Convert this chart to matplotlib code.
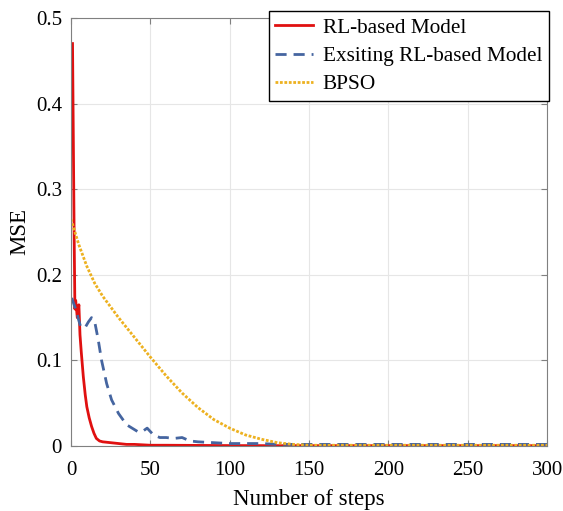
import matplotlib.pyplot as plt

# values
red_steps = [1, 1.5, 2, 2.5, 3, 4, 5, 5.7, 6.5, 7.8, 9, 10, 11.5, 13, 14.5, 16, 18, 20,
             25, 30, 35, 40, 50, 60, 80, 100, 130, 160, 200, 250, 300]
red_mse = [0.47, 0.36, 0.25, 0.16, 0.17, 0.15, 0.165, 0.13, 0.11, 0.081, 0.06, 0.046,
           0.033, 0.023, 0.015, 0.009, 0.006, 0.005, 0.004, 0.003, 0.002, 0.002, 0.001,
           0.001, 0.0008, 0.0006, 0.0005, 0.0005, 0.0005, 0.0005, 0.0005]

blue_steps = [0.5, 2, 3.6, 4.6, 6, 8.8, 11, 13, 15, 17.2, 19.3, 22.5, 25.6, 30, 35, 42,
              45, 48, 52, 56, 60, 65, 70, 75, 80, 90, 100, 110, 120, 130, 140, 150,
              175, 200, 225, 250, 275, 300]
blue_mse = [0.173, 0.165, 0.157, 0.149, 0.14, 0.138, 0.145, 0.15, 0.145, 0.124, 0.10,
            0.073, 0.054, 0.038, 0.025, 0.017, 0.017, 0.021, 0.013, 0.01, 0.01, 0.009,
            0.01, 0.006, 0.005, 0.004, 0.003, 0.003, 0.003, 0.002, 0.002, 0.002, 0.002,
            0.002, 0.002, 0.002, 0.002, 0.002]

bpso_steps = [0, 5, 10, 15, 20, 30, 40, 50, 60, 70, 80, 90, 100, 110, 120, 130, 140,
              150, 200, 250, 300]
bpso_mse = [0.265, 0.235, 0.21, 0.19, 0.175, 0.15, 0.127, 0.104, 0.082, 0.062, 0.045,
            0.031, 0.021, 0.013, 0.008, 0.004, 0.002, 0.001, 0.001, 0.001, 0.001]

plt.rcParams['font.family'] = ['Liberation Serif', 'DejaVu Serif']

fig = plt.figure(figsize=(5.63, 5.11), dpi=100)
ax = fig.add_axes([0.126, 0.127, 0.846, 0.838])

ax.plot(red_steps, red_mse, color='#E01010', lw=2, label='RL-based Model')
ax.plot(blue_steps, blue_mse, color='#4565A0', lw=2, ls=(0, (4, 2.5)),
        label='Exsiting RL-based Model')
ax.plot(bpso_steps, bpso_mse, color='#EDB120', lw=2, ls=(0, (1, 0.6)), label='BPSO')

ax.set_xlim(0, 300)
ax.set_ylim(0, 0.5)
ax.set_xticks([0, 50, 100, 150, 200, 250, 300])
ax.set_yticks([0, 0.1, 0.2, 0.3, 0.4, 0.5])
ax.set_yticklabels(['0', '0.1', '0.2', '0.3', '0.4', '0.5'])
ax.tick_params(labelsize=15, direction='in', top=True, right=True, color='#808080',
               length=4)
ax.tick_params(axis='x', pad=10.5)
ax.tick_params(axis='y', pad=6.5)
ax.grid(True, color='#e6e6e6', lw=0.8)
for s in ax.spines.values():
    s.set_color('#808080')
ax.set_xlabel('Number of steps', fontsize=16.5, labelpad=7)
ax.set_ylabel('MSE', fontsize=16.5, labelpad=4)

leg = ax.legend(loc='upper right', bbox_to_anchor=(1.003, 1.015), fontsize=15.3,
                fancybox=False, framealpha=1, edgecolor='black', borderpad=0.3,
                labelspacing=0.4, handlelength=1.8, handletextpad=0.45,
                borderaxespad=0)
leg.get_frame().set_linewidth(1)

fig.savefig('out.png')
